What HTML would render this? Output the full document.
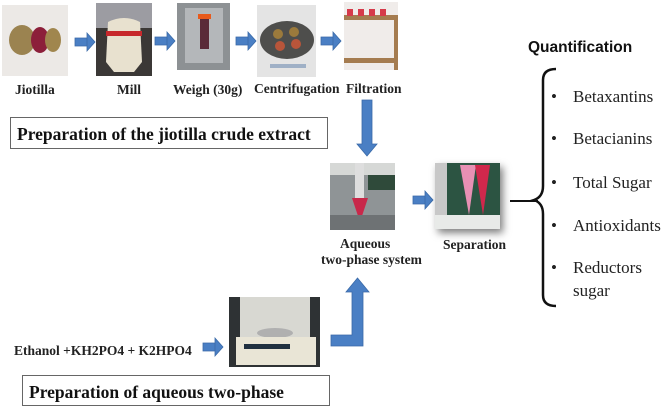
<!DOCTYPE html>
<html><head><meta charset="utf-8"><style>
body{margin:0;background:#fff;}
svg{display:block;}
.l{font-family:"Liberation Serif",serif;font-weight:bold;font-size:13.5px;fill:#222;}
.q{font-family:"Liberation Serif",serif;font-size:17px;fill:#222;}
</style></head><body>
<svg width="666" height="408" viewBox="0 0 666 408" xmlns="http://www.w3.org/2000/svg">
<defs>
<g id="ar"><path d="M0,-4 H12 V-9 L20,0 L12,9 V-4 V4 H0 Z" fill="#4a7fc4" stroke="#3a6aa8" stroke-width="0.8"/></g>
<filter id="sh" x="-20%" y="-20%" width="150%" height="150%"><feDropShadow dx="3" dy="4" stdDeviation="4" flood-color="#000" flood-opacity="0.5"/></filter>
</defs>
<rect x="2" y="5" width="66" height="71" fill="#ece9e6"/>
<ellipse cx="22" cy="40" rx="13" ry="15" fill="#9b8350"/>
<ellipse cx="40" cy="40" rx="9" ry="13" fill="#8c1f3a"/>
<ellipse cx="53" cy="40" rx="8" ry="12" fill="#a0864e"/>
<rect x="96" y="3" width="56" height="73" fill="#3b3836"/>
<rect x="96" y="3" width="56" height="25" fill="#9c9ca2"/>
<path d="M108,22 Q124,14 140,22 L142,62 L134,72 L114,72 L106,62 Z" fill="#e8e1cf"/>
<rect x="106" y="31" width="36" height="5" fill="#c7282c"/>
<rect x="177" y="3" width="53" height="67" fill="#8d9194"/>
<rect x="185" y="8" width="38" height="55" fill="#b4b7ba"/>
<rect x="198" y="14" width="13" height="5" fill="#e85a1c"/>
<rect x="200" y="19" width="9" height="30" fill="#5a2a38"/>
<rect x="257" y="5" width="59" height="72" fill="#e4e4e4"/>
<ellipse cx="287" cy="40" rx="27" ry="19" fill="#4e4e4c"/>
<circle cx="278" cy="34" r="5" fill="#9b7a3c"/><circle cx="294" cy="32" r="5" fill="#9b7a3c"/><circle cx="280" cy="46" r="5" fill="#b8553a"/><circle cx="296" cy="44" r="5" fill="#b8553a"/>
<rect x="270" y="64" width="36" height="4" fill="#9fb0c6"/>
<rect x="344" y="2" width="54" height="68" fill="#f0ecea"/>
<rect x="344" y="15" width="54" height="5" fill="#a57c50"/>
<rect x="344" y="58" width="54" height="5" fill="#a57c50"/>
<rect x="394" y="15" width="4" height="55" fill="#a57c50"/>
<rect x="347" y="9" width="6" height="7" fill="#d63a4a"/><rect x="358" y="9" width="6" height="7" fill="#d63a4a"/><rect x="369" y="9" width="6" height="7" fill="#d63a4a"/><rect x="380" y="9" width="6" height="7" fill="#d63a4a"/>
<use href="#ar" x="75" y="42"/>
<use href="#ar" x="155" y="41"/>
<use href="#ar" x="236" y="41"/>
<use href="#ar" x="321" y="41"/>
<text class="l" x="15" y="94">Jiotilla</text>
<text class="l" x="117" y="94">Mill</text>
<text class="l" x="173" y="94">Weigh (30g)</text>
<text class="l" x="254" y="93">Centrifugation</text>
<text class="l" x="346" y="93">Filtration</text>
<rect x="10.5" y="117.5" width="317" height="31" fill="#fff" stroke="#666" stroke-width="1"/>
<text x="17" y="140" font-family="Liberation Serif,serif" font-weight="bold" font-size="17.5" fill="#111">Preparation of the jiotilla crude extract</text>
<path d="M362,100 H372 V144 H377 L367,156 L357,144 H362 Z" fill="#4a7fc4" stroke="#3a6aa8" stroke-width="0.8"/>
<rect x="330" y="163" width="65" height="67" fill="#8f9496"/>
<rect x="330" y="163" width="65" height="12" fill="#d6d8d6"/>
<rect x="368" y="175" width="27" height="15" fill="#2f4a3a"/>
<rect x="355" y="163" width="9" height="40" fill="#dedede"/>
<path d="M352,198 H368 L360,222 Z" fill="#c8284a"/>
<rect x="330" y="215" width="65" height="15" fill="#6e7274"/>
<text class="l" x="340" y="248">Aqueous</text>
<text class="l" x="321" y="264">two-phase system</text>
<use href="#ar" x="413" y="200"/>
<g filter="url(#sh)"><rect x="435" y="163" width="65" height="66" fill="#2c5442"/></g>
<rect x="435" y="163" width="65" height="66" fill="#2c5442"/>
<rect x="435" y="163" width="12" height="66" fill="#c8c8c8"/>
<rect x="435" y="215" width="65" height="14" fill="#e8eae8"/>
<path d="M460,165 H476 L469,215 Z" fill="#e890b4"/>
<path d="M475,165 H490 L483,215 Z" fill="#d0284c"/>
<text class="l" x="443" y="249">Separation</text>
<line x1="510" y1="201" x2="538" y2="201" stroke="#111" stroke-width="2"/>
<path d="M556,69 Q543,69 543,80 V186 Q543,197 534,200 Q543,203 543,214 V295 Q543,306 556,306" fill="none" stroke="#111" stroke-width="2.5"/>
<text x="528" y="52" font-family="Liberation Sans,sans-serif" font-weight="bold" font-size="15.5" fill="#111">Quantification</text>
<g class="q">
<text x="551" y="102">•</text><text x="573" y="102">Betaxantins</text>
<text x="551" y="144">•</text><text x="573" y="144">Betacianins</text>
<text x="551" y="188">•</text><text x="573" y="188">Total Sugar</text>
<text x="551" y="231">•</text><text x="573" y="231">Antioxidants</text>
<text x="551" y="273">•</text><text x="573" y="273">Reductors</text>
<text x="573" y="296">sugar</text>
</g>
<rect x="229" y="297" width="91" height="70" fill="#2e3234"/>
<rect x="240" y="297" width="70" height="42" fill="#d8d8d2"/>
<ellipse cx="275" cy="333" rx="18" ry="5" fill="#b0b0b0"/>
<rect x="236" y="337" width="80" height="28" fill="#e9e5d6"/>
<rect x="244" y="344" width="46" height="5" fill="#203040"/>
<text class="l" x="14" y="355" font-size="13">Ethanol +KH2PO4 + K2HPO4</text>
<use href="#ar" x="203" y="347"/>
<path d="M331,335 H352 V292 H346 L357.5,278 L369,292 H363 V346 H331 Z" fill="#4a7fc4" stroke="#3a6aa8" stroke-width="0.8"/>
<rect x="22.5" y="375.5" width="307" height="30" fill="#fff" stroke="#666" stroke-width="1"/>
<text x="29" y="398" font-family="Liberation Serif,serif" font-weight="bold" font-size="17.5" fill="#111">Preparation of aqueous two-phase</text>
</svg>
</body></html>
